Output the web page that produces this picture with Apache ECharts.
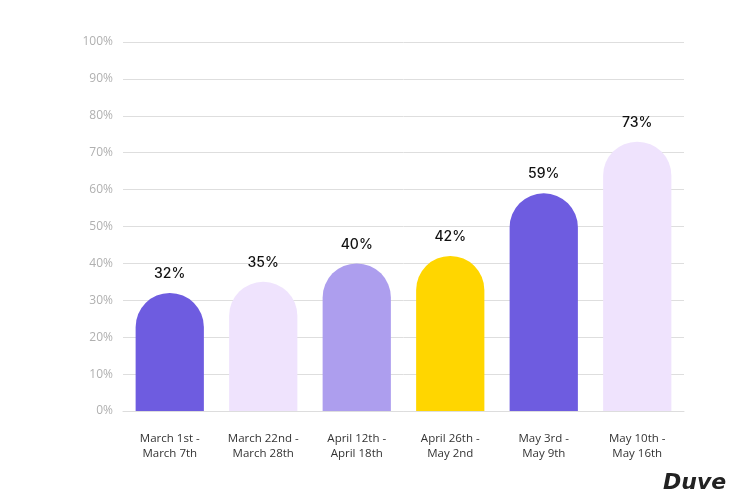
<!DOCTYPE html>
<html>
<head>
<meta charset="utf-8">
<script src="https://cdn.jsdelivr.net/npm/echarts@6/dist/echarts.min.js"></script>
<style>html,body{margin:0;padding:0;background:#fff;}#c{width:735px;height:495px;}</style>
</head>
<body>
<div id="c"></div>
<script>
const categories = ["March 1st -\nMarch 7th", "March 22nd -\nMarch 28th", "April 12th -\nApril 18th", "April 26th -\nMay 2nd", "May 3rd -\nMay 9th", "May 10th -\nMay 16th"];
const rates = [32, 35, 40, 42, 59, 73];
const barColors = ["#6E5CE0", "#EFE3FD", "#AD9EEE", "#FFD600", "#6E5CE0", "#EFE3FD"];
const yTicks = [0, 10, 20, 30, 40, 50, 60, 70, 80, 90, 100];
const axisTitle = "Rate";
const brand = "Duve";

const chart = echarts.init(document.getElementById('c'), null, {renderer: 'canvas'});
chart.setOption({
  animation: false,
  backgroundColor: '#ffffff',
  grid: {left: 123, right: 51, top: 42, bottom: 84},
  xAxis: {
    type: 'category',
    data: categories,
    axisLine: {show: true, lineStyle: {color: '#dddddd'}},
    axisTick: {show: false},
    axisLabel: {interval: 0, color: '#333333', fontFamily: 'Open Sans', fontSize: 11.5, lineHeight: 15, margin: 20}
  },
  yAxis: {
    type: 'value',
    min: yTicks[0],
    max: yTicks[yTicks.length - 1],
    interval: 10,
    axisLine: {show: false},
    axisTick: {show: false},
    splitLine: {lineStyle: {color: '#dedede', width: 1}},
    axisLabel: {color: '#b0b0b0', fontFamily: 'Open Sans', fontSize: 12, margin: 10, formatter: '{value}%', padding: [0, 0, 4, 0]}
  },
  series: [{
    type: 'bar',
    data: rates.map((v, i) => ({value: v, itemStyle: {color: barColors[i]}})),
    barWidth: '73%',
    itemStyle: {borderRadius: [34, 34, 0, 0]},
    label: {show: true, position: 'top', distance: 12, formatter: '{c}%', color: '#111111', fontFamily: 'Inter', fontWeight: 500, fontSize: 14}
  }],
  graphic: [
    {type: 'text', left: 88, top: -9, style: {text: axisTitle, fill: '#b0b0b0', font: '12px "Open Sans"'}},
    {type: 'text', left: 663, top: 472, style: {text: brand, fill: '#222222', font: 'italic 900 22px "DejaVu Sans"'}}
  ]
});
</script>
</body>
</html>
